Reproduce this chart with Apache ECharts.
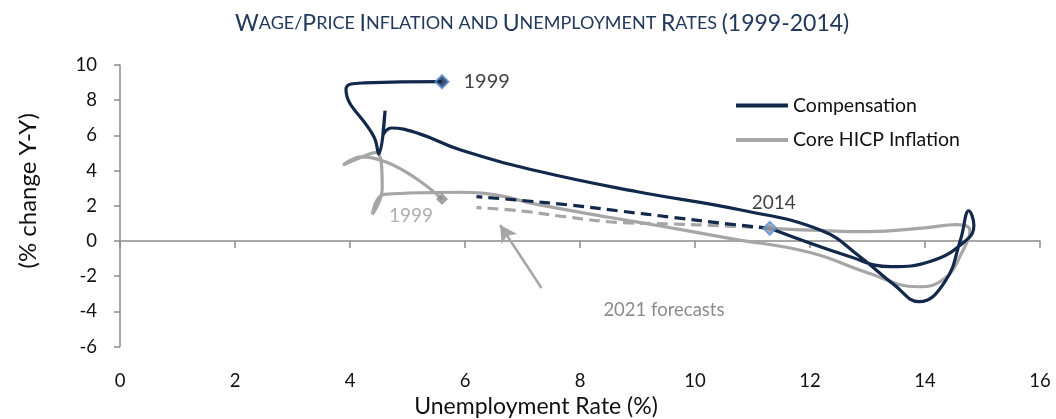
<!DOCTYPE html>
<html><head><meta charset="utf-8">
<script src="https://cdn.jsdelivr.net/npm/echarts@6/dist/echarts.min.js"></script>
<style>html,body{margin:0;padding:0;background:#fff}#c{width:1056px;height:419px}</style>
</head><body><div id="c"></div>
<script>
// ---- data (unemployment rate %, % change Y-Y) ----
const compensation = [
  [5.6, 9.05], [4.25, 8.98], [3.93, 8.62], [4.42, 5.9], [4.5, 4.95], [4.61, 7.4],
  [4.57, 6.0], [4.72, 6.42], [5.2, 6.1], [5.9, 5.2], [7.3, 3.95], [9.0, 2.8],
  [10.8, 1.76], [12.2, 0.6], [12.87, -0.9], [13.45, -2.45], [13.9, -3.45],
  [14.35, -2.3], [14.62, 0.1], [14.76, 1.72], [14.85, 0.9], [14.72, 0.05], [14.1, -1.15],
  [13.4, -1.46], [12.7, -0.9], [11.3, 0.72]
];
const coreHICP = [
  [5.6, 2.38], [4.2, 4.78], [3.88, 4.32], [4.46, 5.04], [4.56, 3.0], [4.39, 1.52],
  [4.6, 2.65], [5.9, 2.77], [6.3, 2.72], [7.3, 2.05], [8.5, 1.35], [9.4, 0.85],
  [10.6, 0.15], [12.0, -0.65], [13.0, -1.8], [13.88, -2.6], [14.35, -2.1], [14.65, -0.6],
  [14.78, 0.6], [14.55, 0.93], [14.0, 0.75], [13.0, 0.53], [12.0, 0.62], [11.3, 0.72]
];
const compensationForecast = [
  [11.3, 0.72], [10.5, 1.0], [9.6, 1.35], [8.7, 1.7], [7.8, 2.05], [7.0, 2.3], [6.2, 2.52]
];
const coreHICPForecast = [
  [11.3, 0.72], [10.5, 0.86], [9.6, 0.97], [8.7, 1.05], [7.8, 1.35], [7.0, 1.7], [6.2, 1.9]
];
const seriesNames = ['Compensation', 'Core HICP Inflation'];
const yearLabels = ['1999', '2014'];
const forecastLabel = '2021 forecasts';
const xRange = [0, 16, 2];
const yRange = [-6, 10, 2];

const NAVY = '#12294B';
const GREY = '#A6A6A6';
const FONT = 'Lato';
const SMOOTH = 0.45;

const chart = echarts.init(document.getElementById('c'), null, {renderer: 'canvas'});
chart.setOption({
  animation: false,
  backgroundColor: '#fff',
  textStyle: {fontFamily: FONT},
  title: {
    left: 230, top: 7,
    text: '{b|W}{s|AGE/}{b|P}{s|RICE }{b|I}{s|NFLATION AND }{b|U}{s|NEMPLOYMENT }{b|R}{s|ATES }{b|(1999-2014)}',
    textStyle: {
      fontWeight: 'normal',
      rich: {
        b: {fontFamily: FONT, fontSize: 23, fontWeight: 'normal', color: '#22395C'},
        s: {fontFamily: FONT, fontSize: 18, fontWeight: 'normal', color: '#22395C'}
      }
    }
  },
  legend: {
    orient: 'vertical', left: 731, top: 90, itemWidth: 52, itemHeight: 4, itemGap: 13.5,
    icon: 'rect',
    data: seriesNames,
    textStyle: {fontSize: 19.5, color: '#111', lineHeight: 21, fontFamily: FONT}
  },
  grid: {left: 120, right: 16, top: 65, bottom: 72.4, containLabel: false, outerBoundsMode: 'none'},
  xAxis: [{
    type: 'value', min: xRange[0], max: xRange[1], interval: xRange[2], position: 'bottom',
    axisLine: {show: false, onZero: false}, axisTick: {show: false}, splitLine: {show: false},
    axisLabel: {fontSize: 18.5, color: '#111', margin: 25, fontFamily: FONT},
    name: 'Unemployment Rate (%)', nameLocation: 'middle', nameGap: 44,
    nameTextStyle: {fontSize: 23, color: '#111', padding: [0, 88, 0, 0], fontFamily: FONT}
  }, {
    type: 'value', min: xRange[0], max: xRange[1], interval: xRange[2], position: 'bottom',
    axisLine: {show: true, onZero: true, onZeroAxisIndex: 0, lineStyle: {color: '#8C8C8C', width: 1.5}},
    axisTick: {show: true, length: 7, lineStyle: {color: '#8C8C8C', width: 1.5}},
    axisLabel: {show: false}, splitLine: {show: false}
  }],
  yAxis: {
    type: 'value', min: yRange[0], max: yRange[1], interval: yRange[2],
    axisLine: {show: true, onZero: false, lineStyle: {color: '#8C8C8C', width: 1.5}},
    axisTick: {show: true, length: 6, lineStyle: {color: '#8C8C8C', width: 1.5}},
    axisLabel: {fontSize: 18.5, color: '#111', margin: 23, fontFamily: FONT},
    splitLine: {show: false},
    name: '(% change Y-Y)', nameLocation: 'middle', nameGap: 80,
    nameTextStyle: {fontSize: 24, color: '#111', padding: [0, 0, 0, 30], fontFamily: FONT}
  },
  series: [
    {
      name: seriesNames[1], type: 'line', data: coreHICP, smooth: SMOOTH, symbol: 'none',
      lineStyle: {color: GREY, width: 3.2}, itemStyle: {color: GREY}, z: 2
    },
    {
      name: seriesNames[0], type: 'line', data: compensation, smooth: SMOOTH, symbol: 'none',
      lineStyle: {color: NAVY, width: 3.2}, itemStyle: {color: NAVY}, z: 3
    },
    {
      name: 'Compensation forecast', type: 'line', data: compensationForecast, smooth: SMOOTH, symbol: 'none',
      lineStyle: {color: NAVY, width: 3.2, type: [11, 6]}, z: 3
    },
    {
      name: 'Core HICP forecast', type: 'line', data: coreHICPForecast, smooth: SMOOTH, symbol: 'none',
      lineStyle: {color: GREY, width: 3.2, type: [11, 6]}, z: 2,
      markLine: {
        silent: true, symbol: ['none', 'arrow'], symbolSize: [14, 17],
        lineStyle: {color: GREY, width: 2.5, type: 'solid'}, label: {show: false},
        data: [[{coord: [7.33, -2.67]}, {coord: [6.61, 0.91]}]]
      },
      markPoint: {
        silent: true, symbol: 'circle', symbolSize: 0,
        label: {show: true, position: 'inside', formatter: forecastLabel, fontSize: 18.5, color: '#8C8C8C', fontFamily: FONT},
        data: [{coord: [9.46, -3.92]}]
      }
    },
    {
      name: 'comp-points', type: 'scatter', z: 5, symbol: 'diamond',
      data: [
        {value: compensation[0], symbolSize: 13, itemStyle: {color: NAVY, borderColor: '#5B8FD0', borderWidth: 2},
         label: {show: true, position: 'right', distance: 14, formatter: yearLabels[0], fontSize: 20, color: '#111', fontFamily: FONT}},
        {value: compensation[compensation.length - 1], symbolSize: 13, itemStyle: {color: '#9AA6B6', borderColor: '#5B8FD0', borderWidth: 2},
         label: {show: true, position: 'top', distance: 8, offset: [4, 0], formatter: yearLabels[1], fontSize: 19, color: '#111', fontFamily: FONT}}
      ]
    },
    {
      name: 'core-points', type: 'scatter', z: 6, symbol: 'diamond',
      data: [
        {value: coreHICP[0], symbolSize: 12, itemStyle: {color: '#8C8C8C'},
         label: {show: true, position: 'inside', offset: [-31, 17], formatter: yearLabels[0], fontSize: 19, color: '#9A9A9A', fontFamily: FONT}},
        {value: coreHICP[coreHICP.length - 1], symbolSize: 7, itemStyle: {color: '#8C8C8C'}, label: {show: false}}
      ]
    }
  ]
});
</script>
</body></html>
